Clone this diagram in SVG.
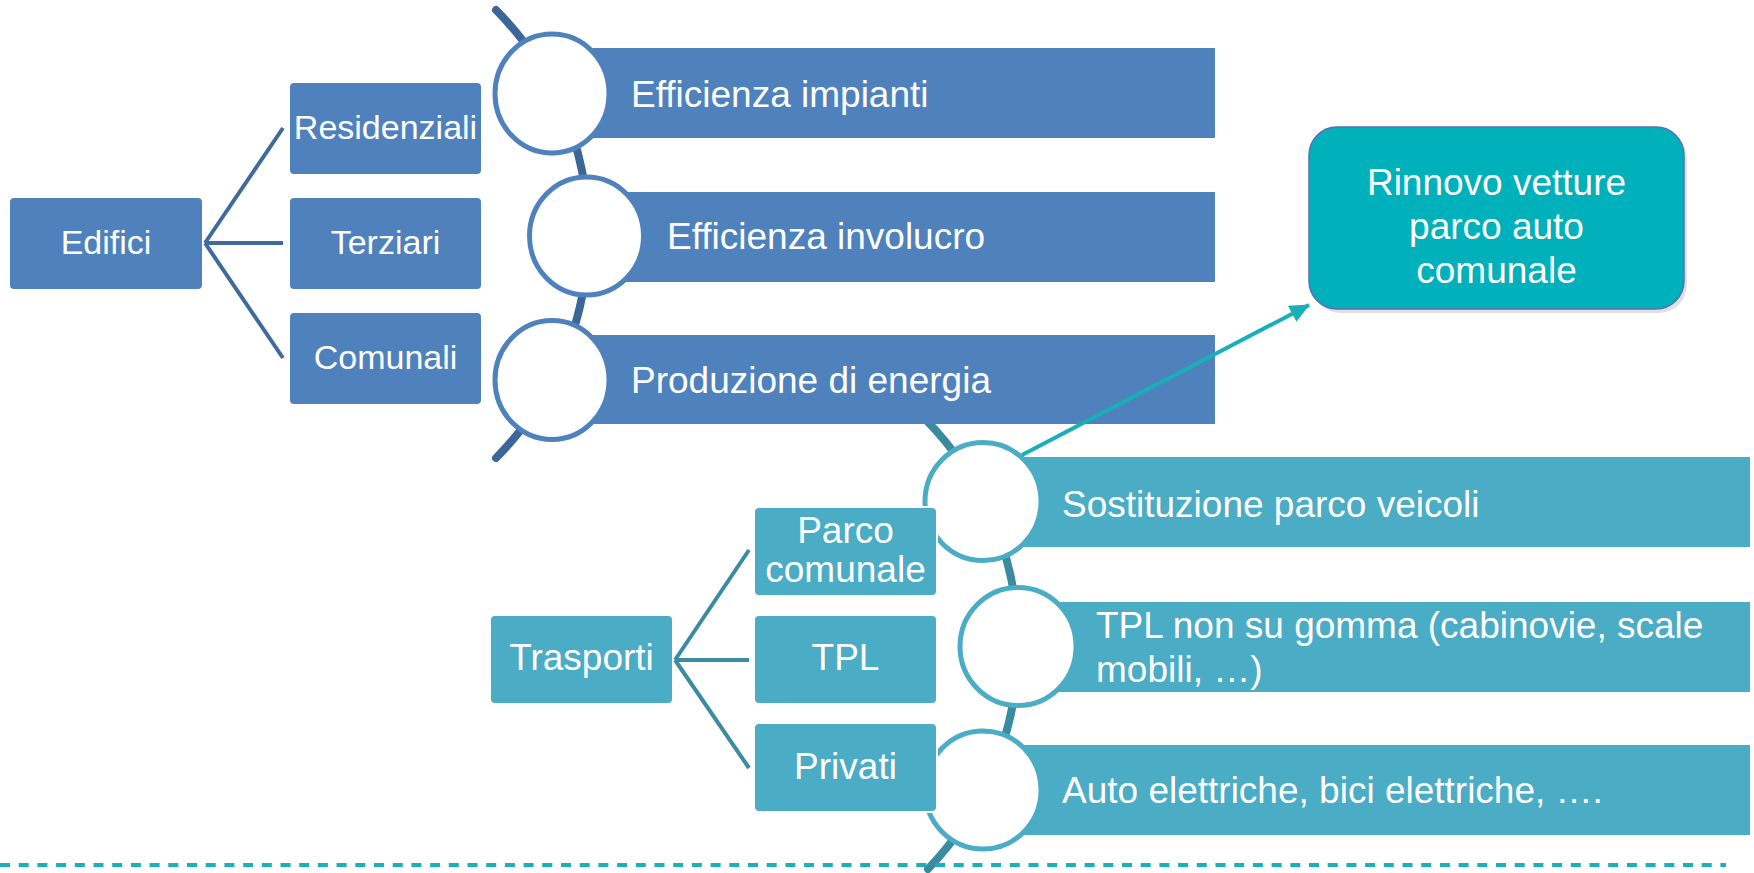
<svg xmlns="http://www.w3.org/2000/svg" width="1754" height="873" viewBox="0 0 1754 873">
<defs>
<style>
.t{font-family:"Liberation Sans",Arial,sans-serif;fill:#fff}
.s34{font-size:34px}
.s37{font-size:37px}
.mid{text-anchor:middle}
.bb{fill:#4F81BD}
.tb{fill:#4BACC6}
.bx{stroke:#fff;stroke-width:2}
.cb{fill:#fff;stroke:#4F81BD;stroke-width:5}
.ct{fill:#fff;stroke:#4BACC6;stroke-width:5}
.lb{fill:none;stroke:#3F6A9E;stroke-width:4}
.lt{fill:none;stroke:#3B8CA3;stroke-width:4}
</style>
<marker id="ah" markerWidth="22" markerHeight="20" refX="19" refY="10" orient="auto" markerUnits="userSpaceOnUse">
<path d="M0,1 L20,10 L0,19 Z" fill="#17B0B8"/>
</marker>
</defs>
<rect width="1754" height="873" fill="#fff"/>

<g id="spines">
<path d="M496,10 A318,318 0 0 1 496,458" fill="none" stroke="#3D6698" stroke-width="8" stroke-linecap="round"/>
<path d="M926,420 A322,322 0 0 1 928,869" fill="none" stroke="#3A8AA0" stroke-width="8" stroke-linecap="round"/>
<line x1="0" y1="865" x2="1726" y2="865" stroke="#19B0BC" stroke-width="4" stroke-dasharray="10,8.7"/>
</g>

<g id="edifici"><rect class="bb bx" x="9" y="197" width="194" height="93" rx="5"/><text class="t s34 mid" x="106" y="254">Edifici</text></g>
<g id="residenziali"><rect class="bb bx" x="289" y="82" width="193" height="93" rx="5"/><text class="t s34 mid" x="385.5" y="139">Residenziali</text></g>
<g id="terziari"><rect class="bb bx" x="289" y="197" width="193" height="93" rx="5"/><text class="t s34 mid" x="385.5" y="254">Terziari</text></g>
<g id="comunali"><rect class="bb bx" x="289" y="312" width="193" height="93" rx="5"/><text class="t s34 mid" x="385.5" y="369">Comunali</text></g>

<g id="efficienza-impianti"><rect class="bb" x="552" y="48" width="663" height="90"/><ellipse class="cb" cx="552" cy="93.5" rx="57" ry="59.5"/><text class="t s37" x="631" y="107">Efficienza impianti</text></g>
<g id="efficienza-involucro"><rect class="bb" x="587" y="192" width="628" height="90"/><ellipse class="cb" cx="586.5" cy="236" rx="57" ry="59"/><text class="t s37" x="667" y="249">Efficienza involucro</text></g>
<g id="produzione"><rect class="bb" x="552" y="335" width="663" height="89"/><ellipse class="cb" cx="552" cy="380" rx="57" ry="59.5"/><text class="t s37" x="631" y="393">Produzione di energia</text></g>

<g id="sostituzione"><rect class="tb" x="983" y="457" width="767" height="90"/><ellipse class="ct" cx="983" cy="501.5" rx="58" ry="59"/><text class="t s37" x="1062" y="517">Sostituzione parco veicoli</text></g>
<g id="tpl-gomma"><rect class="tb" x="1018" y="602" width="732" height="90"/><ellipse class="ct" cx="1018" cy="646.5" rx="58" ry="59"/><text class="t s37" x="1096" y="638">TPL non su gomma (cabinovie, scale</text><text class="t s37" x="1096" y="682">mobili, …)</text></g>
<g id="auto-elettriche"><rect class="tb" x="983" y="745" width="767" height="90"/><ellipse class="ct" cx="983" cy="790" rx="58" ry="59"/><text class="t s37" x="1062" y="803">Auto elettriche, bici elettriche, ….</text></g>

<g id="trasporti"><rect class="tb bx" x="490" y="615" width="183" height="89" rx="5"/><text class="t s37 mid" x="581.5" y="670">Trasporti</text></g>
<g id="parco-comunale"><rect class="tb bx" x="754" y="507" width="183" height="89" rx="5"/><text class="t s37 mid" x="845.5" y="543">Parco</text><text class="t s37 mid" x="845.5" y="582">comunale</text></g>
<g id="tpl"><rect class="tb bx" x="754" y="615" width="183" height="89" rx="5"/><text class="t s37 mid" x="845.5" y="670">TPL</text></g>
<g id="privati"><rect class="tb bx" x="754" y="723" width="183" height="89" rx="5"/><text class="t s37 mid" x="845.5" y="779">Privati</text></g>

<g id="rinnovo">
<rect x="1312" y="131" width="375" height="182" rx="28" fill="#000" opacity="0.12"/>
<rect x="1309" y="127" width="375" height="182" rx="28" fill="#00B0BA" stroke="#5A6FB5" stroke-width="1.5"/>
<text class="t s37 mid" x="1496.5" y="195">Rinnovo vetture</text>
<text class="t s37 mid" x="1496.5" y="239">parco auto</text>
<text class="t s37 mid" x="1496.5" y="283">comunale</text>
</g>

<g id="connectors">
<path class="lb" d="M205,243 L283,128 M205,243 L283,243 M205,243 L283,358"/>
<path class="lt" d="M675,660 L749,550 M675,660 L749,660 M675,660 L749,768"/>
<line x1="1022" y1="455" x2="1309" y2="305" stroke="#17B0B8" stroke-width="4" marker-end="url(#ah)"/>
</g>
</svg>
